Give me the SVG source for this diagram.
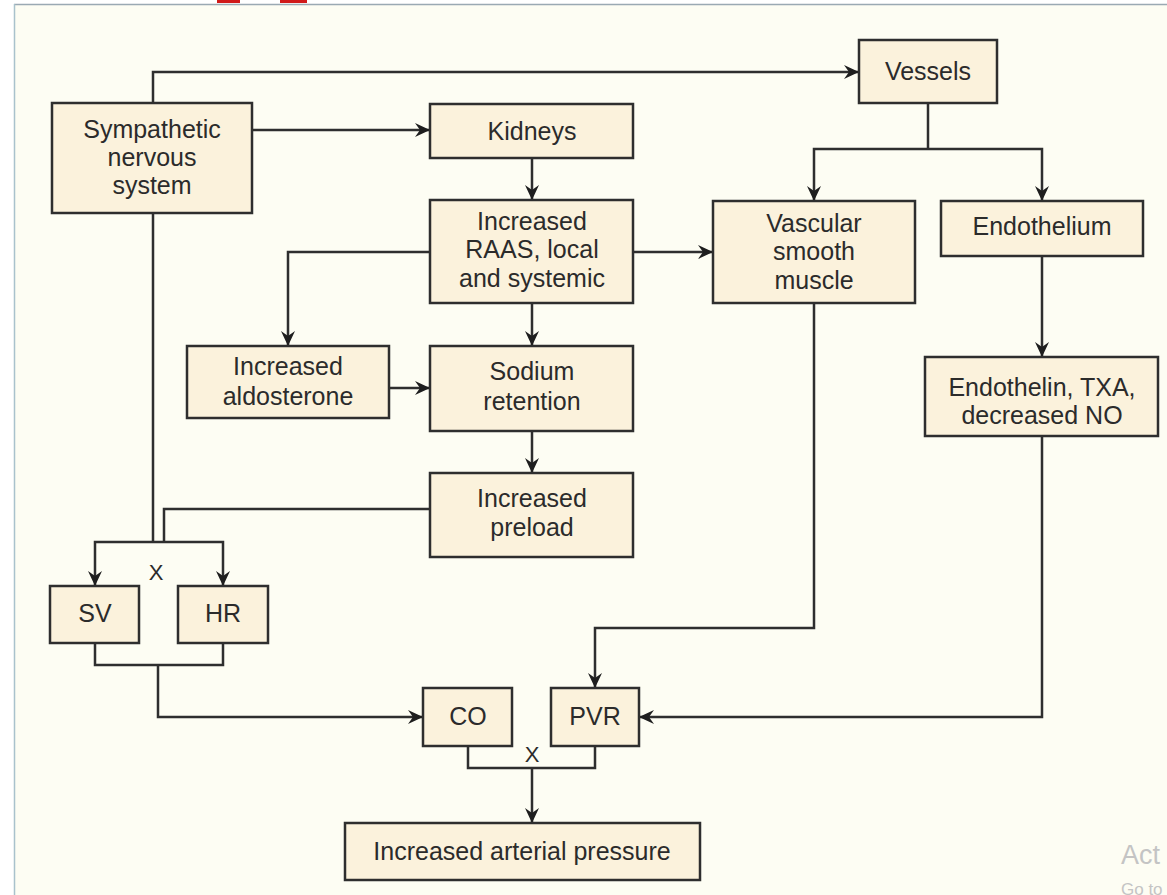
<svg xmlns="http://www.w3.org/2000/svg" width="1167" height="895" viewBox="0 0 1167 895">
<style>
.box{fill:#fbf2dc;stroke:#2e2e2e;stroke-width:2.5}
.t{font-family:"Liberation Sans",Arial,sans-serif;font-size:25px;fill:#2b2b2b;text-anchor:middle}
.c{fill:none;stroke:#2e2e2e;stroke-width:2.5}
.wm{font-family:"Liberation Sans",Arial,sans-serif;fill:#c4c4c4}
</style>
<defs>
<marker id="ah" markerUnits="userSpaceOnUse" markerWidth="16" markerHeight="14" refX="15" refY="7" orient="auto">
<path d="M0,0 L15,7 L0,14 L5,7 z" fill="#1e1e1e"/>
</marker>
</defs>
<rect x="0" y="0" width="1167" height="895" fill="#ffffff"/>
<rect x="14" y="4" width="1153" height="891" fill="#fdfdf3"/>
<line x1="14" y1="4.5" x2="1167" y2="4.5" stroke="#9aa9b3" stroke-width="1.5"/>
<line x1="14.5" y1="4" x2="14.5" y2="895" stroke="#a9c2cc" stroke-width="1.5"/>
<rect x="217" y="0" width="23" height="3" fill="#d11a1a"/>
<rect x="280" y="0" width="27" height="3" fill="#d11a1a"/>

<g id="connectors">
<path class="c" d="M153,103 V72 H859" marker-end="url(#ah)"/>
<path class="c" d="M252,130 H430" marker-end="url(#ah)"/>
<path class="c" d="M532,158 V200" marker-end="url(#ah)"/>
<path class="c" d="M928,103 V149"/>
<path class="c" d="M928,149 H814 V201" marker-end="url(#ah)"/>
<path class="c" d="M928,149 H1042 V201" marker-end="url(#ah)"/>
<path class="c" d="M633,252 H713" marker-end="url(#ah)"/>
<path class="c" d="M430,252 H288 V346" marker-end="url(#ah)"/>
<path class="c" d="M532,303 V346" marker-end="url(#ah)"/>
<path class="c" d="M389,388 H430" marker-end="url(#ah)"/>
<path class="c" d="M532,431 V473" marker-end="url(#ah)"/>
<path class="c" d="M1042,256 V357" marker-end="url(#ah)"/>
<path class="c" d="M153,213 V542"/>
<path class="c" d="M430,509 H164 V542"/>
<path class="c" d="M153,542 H95 V586" marker-end="url(#ah)"/>
<path class="c" d="M153,542 H223 V586" marker-end="url(#ah)"/>
<path class="c" d="M95,643 V665 H223 V643"/>
<path class="c" d="M158,665 V717 H423" marker-end="url(#ah)"/>
<path class="c" d="M814,303 V628 H595 V688" marker-end="url(#ah)"/>
<path class="c" d="M1042,436 V717 H639" marker-end="url(#ah)"/>
<path class="c" d="M468,746 V768 H595 V746"/>
<path class="c" d="M532,768 V823" marker-end="url(#ah)"/>
<text class="t" x="156" y="580" style="font-size:22px">X</text>
<text class="t" x="532" y="762" style="font-size:22px">X</text>
</g>

<g id="sympathetic">
<rect class="box" x="52" y="103" width="200" height="110"/>
<text class="t" x="152" y="138">Sympathetic</text>
<text class="t" x="152" y="166">nervous</text>
<text class="t" x="152" y="194">system</text>
</g>
<g id="kidneys">
<rect class="box" x="430" y="104" width="203" height="54"/>
<text class="t" x="532" y="140">Kidneys</text>
</g>
<g id="vessels">
<rect class="box" x="859" y="40" width="138" height="63"/>
<text class="t" x="928" y="80">Vessels</text>
</g>
<g id="raas">
<rect class="box" x="430" y="200" width="203" height="103"/>
<text class="t" x="532" y="230">Increased</text>
<text class="t" x="532" y="258">RAAS, local</text>
<text class="t" x="532" y="287">and systemic</text>
</g>
<g id="vsm">
<rect class="box" x="713" y="201" width="202" height="102"/>
<text class="t" x="814" y="232">Vascular</text>
<text class="t" x="814" y="260">smooth</text>
<text class="t" x="814" y="289">muscle</text>
</g>
<g id="endothelium">
<rect class="box" x="941" y="201" width="202" height="55"/>
<text class="t" x="1042" y="235">Endothelium</text>
</g>
<g id="aldosterone">
<rect class="box" x="187" y="346" width="202" height="72"/>
<text class="t" x="288" y="375">Increased</text>
<text class="t" x="288" y="405">aldosterone</text>
</g>
<g id="sodium">
<rect class="box" x="430" y="346" width="203" height="85"/>
<text class="t" x="532" y="380">Sodium</text>
<text class="t" x="532" y="410">retention</text>
</g>
<g id="endothelin">
<rect class="box" x="925" y="357" width="233" height="79"/>
<text class="t" x="1042" y="396">Endothelin, TXA,</text>
<text class="t" x="1042" y="424">decreased NO</text>
</g>
<g id="preload">
<rect class="box" x="430" y="473" width="203" height="84"/>
<text class="t" x="532" y="507">Increased</text>
<text class="t" x="532" y="536">preload</text>
</g>
<g id="sv">
<rect class="box" x="50" y="586" width="89" height="57"/>
<text class="t" x="95" y="622">SV</text>
</g>
<g id="hr">
<rect class="box" x="178" y="586" width="90" height="57"/>
<text class="t" x="223" y="622">HR</text>
</g>
<g id="co">
<rect class="box" x="423" y="688" width="89" height="58"/>
<text class="t" x="468" y="725">CO</text>
</g>
<g id="pvr">
<rect class="box" x="551" y="688" width="88" height="58"/>
<text class="t" x="595" y="725">PVR</text>
</g>
<g id="pressure">
<rect class="box" x="345" y="823" width="355" height="57"/>
<text class="t" x="522" y="860">Increased arterial pressure</text>
</g>

<text class="wm" x="1121" y="864" font-size="27">Act</text>
<text class="wm" x="1121" y="895" font-size="17">Go to</text>
</svg>
